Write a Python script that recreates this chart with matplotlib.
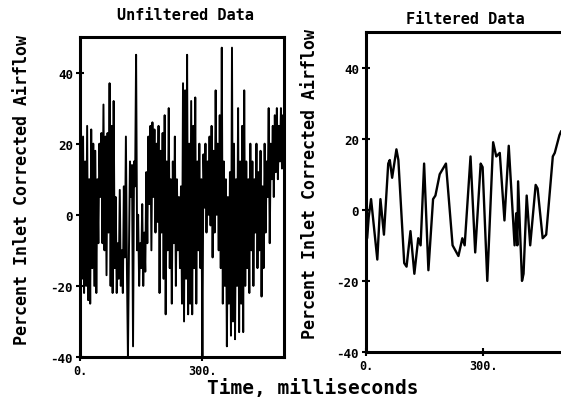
import numpy as np
import matplotlib
matplotlib.use("Agg")
import matplotlib.pyplot as plt

# ---------------- data ----------------
sample_interval_ms = 2.5
unfiltered = [
    5, 24, -18, 22, -22, 15, -20, 25, -24, 10,
    -25, 24, -15, 20, -20, 18, -22, 10, -8, 20,
    5, 23, -8, 31, -10, 22, -17, 23, -5, 37,
    -20, 25, -22, 32, -15, 5, -22, -8, -18, 7,
    -20, -10, -22, 8, -12, 22, -15, -40, -10, 15,
    5, 14, -37, 15, 8, 45, -10, 0, -20, -8,
    -15, 3, -20, -5, -16, 12, -8, 22, 3, 25,
    -10, 26, 5, 24, -5, 20, -2, 25, -22, 18,
    -5, 23, -18, 28, -28, 15, -10, 30, -15, 10,
    -25, 15, -8, 22, -20, 10, -10, 5, -15, 8,
    -25, 37, -30, 35, -18, 45, -28, 20, -25, 32,
    -28, 25, -15, 33, -25, 15, -10, 20, -15, 10,
    -40, 17, 2, 20, -5, 15, 0, 22, -3, 25,
    -12, 18, -5, 35, 0, 20, -10, 28, -15, 47,
    -25, 15, -20, 10, -37, 5, -25, 12, -34, 47,
    -30, 20, -35, 10, -20, 30, -33, 15, -25, 25,
    -33, 35, -20, 15, -15, 10, -22, 20, -10, 15,
    -20, 10, -5, 20, -15, 12, -10, 18, -23, 8,
    -15, 20, -5, 15, 5, 30, -8, 20, 10, 25,
    5, 28, 12, 30, 10, 25, 15, 30, 13, 28, 20,
]
unfiltered_t = np.arange(len(unfiltered)) * sample_interval_ms

filtered_t = [0, 3, 7, 13, 29, 37, 46, 57, 61, 67, 78, 83, 98, 104, 114, 124,
              134, 140, 149, 160, 172, 178, 189, 205, 222, 232, 237, 247, 253,
              268, 280, 294, 299, 311, 326, 334, 343, 355, 366, 381, 385, 388,
              390, 400, 404, 412, 421, 435, 440, 453, 462, 479, 484, 496, 500]
filtered = [0, -8, -2, 3, -14, 3, -7, 13, 14, 9, 17, 14, -15, -16, -6, -18,
            -8, -10, 13, -17, 3, 4, 10, 13, -10, -12, -13, -8, -10,
            15, -12, 13, 12, -20, 19, 15, 16, -3, 18, -10, -1, -10,
            8, -20, -18, 4, -10, 7, 6, -8, -7, 15, 16, 21, 22]

titles = ["Unfiltered Data", "Filtered Data"]
ylabel = "Percent Inlet Corrected Airflow"
xlabel = "Time, milliseconds"
yticks = [-40, -20, 0, 20, 40]
xticks = [0, 300]
xticklabels = ["0.", "300."]

# ---------------- figure ----------------
W, H = 561, 406
fig = plt.figure(figsize=(W / 100, H / 100), dpi=100)
font = {"family": "DejaVu Sans Mono", "weight": "bold"}

def px_axes(x0, y0, x1, y1):
    return fig.add_axes([x0 / W, 1 - y1 / H, (x1 - x0) / W, (y1 - y0) / H])

ax1 = px_axes(80, 38, 284, 358)
ax2 = px_axes(366, 33, 561, 353)

ax1.plot(unfiltered_t, unfiltered, color="black", lw=1.4)
ax2.plot(filtered_t, filtered, color="black", lw=1.7)

for ax in (ax1, ax2):
    ax.set_xlim(0, 500)
    ax.set_ylim(-40, 50)
    ax.set_yticks(yticks)
    ax.set_yticklabels([str(v) for v in yticks], fontsize=9, **font)
    ax.set_xticks(xticks)
    ax.set_xticklabels(xticklabels, fontsize=8.5, **font)
    ax.tick_params(direction="inout", length=6, width=1.5, pad=2)
    for s in ax.spines.values():
        s.set_linewidth(2.2)
ax2.spines["right"].set_visible(False)

fig.text(185 / W, 1 - 15 / H, titles[0], ha="center", va="center", fontsize=11, **font)
fig.text(465 / W, 1 - 20 / H, titles[1], ha="center", va="center", fontsize=11, **font)
fig.text(22 / W, 1 - 190 / H, ylabel, rotation=90, ha="center", va="center", fontsize=12, **font)
fig.text(310 / W, 1 - 184 / H, ylabel, rotation=90, ha="center", va="center", fontsize=12, **font)
fig.text(313 / W, 1 - 389 / H, xlabel, ha="center", va="center", fontsize=14, **font)

fig.savefig("out.png", dpi=100)
